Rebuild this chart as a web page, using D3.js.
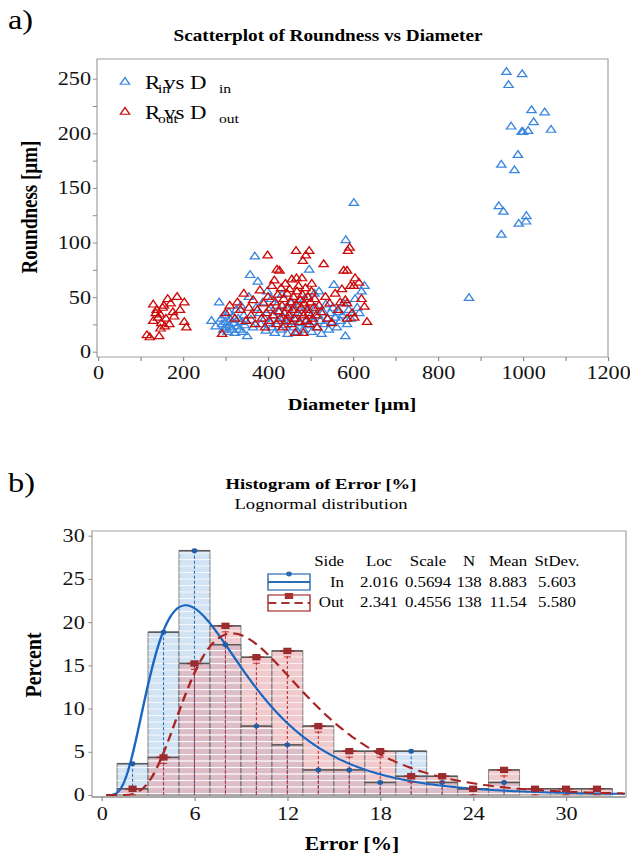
<!DOCTYPE html>
<html>
<head>
<meta charset="utf-8">
<script src="https://cdn.jsdelivr.net/npm/d3@7"></script>
<style>
  html, body { margin: 0; padding: 0; background: #fff; }
  svg { display: block; font-family: "Liberation Serif", "Times New Roman", serif; }
</style>
</head>
<body>
<div id="chart"></div>
<script>
// ---- scatter data: [diameter, roundness] ----
const rInPoints = [
  [961,256],[998,254],[966,244],[1020,221],[1051,219],[1025,210],[972,206],[997,201],[1000,201],[1012,202],
  [1066,203],[988,180],[949,171],[980,166],[943,133],[954,128],[1008,124],[1007,119],[990,117],[949,107],[873,49],
  [267,28],[277,23],[285,45],[290,30],[292,25],[295,20],[298,33],[300,27],[303,22],[305,18],[308,36],[310,24],
  [312,29],[315,20],[318,32],[320,26],[322,17],[325,38],[328,23],[330,30],[333,20],[336,42],[338,27],[340,18],
  [343,33],[345,24],[351,14],[355,50],[358,70],[360,29],[365,22],[369,87],[372,40],[376,64],[380,35],[383,25],
  [388,45],[392,30],[395,19],[398,55],[402,38],[405,26],[408,48],[410,22],[413,33],[416,17],[420,42],[423,28],
  [426,36],[430,20],[433,52],[436,31],[440,24],[443,40],[446,16],[450,34],[453,27],[456,45],[460,22],[463,38],
  [466,30],[470,18],[473,42],[476,26],[480,35],[483,20],[486,48],[490,29],[493,24],[496,38],[497,75],[500,32],
  [503,18],[506,27],[509,53],[512,40],[515,22],[518,33],[520,55],[523,28],[526,16],[530,36],[533,25],[536,43],
  [540,30],[543,20],[546,35],[550,27],[553,40],[555,61],[558,31],[562,22],[566,36],[570,28],[575,33],[578,44],
  [582,14],[583,102],[586,25],[590,38],[595,30],[602,136],[605,48],[610,40],[615,35],[620,55],[627,60]
];
const rOutPoints = [
  [115,15],[122,13],[130,43],[130,28],[136,35],[138,38],[141,31],[144,14],[146,34],[147,21],[149,26],[152,40],
  [155,42],[157,23],[160,30],[164,48],[168,25],[171,44],[176,36],[179,32],[186,50],[193,38],[203,45],[203,27],[208,22],
  [292,16],[300,35],[310,42],[322,30],[328,45],[335,38],[343,53],[348,28],[355,40],[360,33],[365,47],[370,25],
  [375,38],[381,56],[385,30],[390,44],[393,22],[396,35],[399,88],[400,50],[403,28],[406,40],[409,60],[412,33],
  [415,65],[417,45],[420,25],[421,75],[423,52],[425,37],[427,74],[429,30],[431,58],[433,42],[435,22],[437,48],
  [439,35],[441,62],[443,28],[445,53],[447,40],[449,33],[451,57],[453,45],[455,25],[456,66],[458,38],[460,50],
  [462,30],[464,17],[466,43],[466,92],[467,67],[468,55],[470,35],[472,60],[474,27],[476,47],[478,40],[480,67],
  [481,52],[482,83],[483,17],[484,33],[486,44],[488,58],[489,88],[490,28],[492,38],[494,50],[496,35],[497,92],
  [498,25],[500,45],[502,55],[503,62],[505,30],[507,40],[510,48],[513,33],[516,22],[520,42],[525,36],[531,80],
  [535,50],[540,30],[545,44],[550,26],[558,53],[565,38],[570,45],[574,57],[578,74],[582,47],[586,44],[586,74],
  [586,30],[588,92],[592,95],[594,60],[598,35],[602,60],[603,31],[605,67],[614,63],[620,48],[627,41],[633,27]
];
const xTicksScatter = d3.range(0, 1201, 100);
const yTicksScatter = d3.range(0, 251, 25);

// ---- histogram data (percent per 2-unit bin) ----
const binCenters = [2,4,6,8,10,12,14,16,18,20,22,24,26,28,30,32];
const pctIn  = [3.62,18.84,28.26,17.39,7.97,5.80,2.90,2.90,1.45,5.07,1.45,0.72,1.45,0,0,0];
const pctOut = [0.72,4.35,15.22,19.57,15.94,16.67,7.97,5.07,5.07,2.17,2.17,0.72,2.90,0.72,0.72,0.72];
const sides   = ["In", "Out"];
const locs    = [2.016, 2.341];
const scales  = [0.5694, 0.4556];
const counts  = [138, 138];
const means   = ["8.883", "11.54"];
const stdevs  = ["5.603", "5.580"];
const xTicksHist = [0, 6, 12, 18, 24, 30];
const yTicksHist = [0, 5, 10, 15, 20, 25, 30];

// the picture is stretched sideways; draw in narrow units and let the viewBox widen it
const SX = 1.2, W = 630 / SX, H = 857;
const sx = v => v / SX;

const svg = d3.select("#chart").append("svg")
  .attr("width", 630).attr("height", H)
  .attr("viewBox", `0 0 ${W} ${H}`)
  .attr("preserveAspectRatio", "none");

// faint white banding seen across the histogram bars
svg.append("defs").append("pattern").attr("id", "bands")
  .attr("patternUnits", "userSpaceOnUse").attr("width", 20).attr("height", 6.5)
  .append("rect").attr("width", 20).attr("height", 1).attr("fill", "#fff").attr("fill-opacity", 0.75);

const blue = "#3a86df", red = "#cc0a0a";

function styleAxis(g, size) {
  g.select(".domain").remove();
  g.selectAll(".tick line").attr("stroke", "#8c8c8c");
  g.selectAll(".tick text").attr("font-size", size).attr("fill", "#111")
    .attr("font-family", '"Liberation Serif", serif');
}

// ================= a) scatter =================
svg.append("text").attr("x", sx(8)).attr("y", 29).attr("font-size", 27).text("a)");
svg.append("text").attr("x", sx(328)).attr("y", 41).attr("text-anchor", "middle")
  .attr("font-size", 16).attr("font-weight", "bold").text("Scatterplot of Roundness vs Diameter");

const sFrame = { l: sx(97), r: sx(608), t: 59, b: 357 };
const x = d3.scaleLinear().domain([0, 1200]).range([sx(98), sx(608)]);
const y = d3.scaleLinear().domain([0, 250]).range([351.7, 78.7]);

svg.append("rect").attr("x", sFrame.l).attr("y", sFrame.t)
  .attr("width", sFrame.r - sFrame.l).attr("height", sFrame.b - sFrame.t)
  .attr("fill", "none").attr("stroke", "#a0a0a0").attr("stroke-width", 1);

svg.append("g").attr("transform", `translate(0,${sFrame.b})`)
  .call(d3.axisBottom(x).tickValues(xTicksScatter).tickFormat(d => d % 200 === 0 ? d : "")
    .tickSize(4).tickPadding(5))
  .call(g => styleAxis(g, 18.5));

svg.append("g").attr("transform", `translate(${sFrame.l},0)`)
  .call(d3.axisLeft(y).tickValues(yTicksScatter).tickFormat(d => d % 50 === 0 ? d : "")
    .tickSize(3.5).tickPadding(1.5))
  .call(g => styleAxis(g, 18.5));

svg.append("text").attr("x", sx(352)).attr("y", 410).attr("text-anchor", "middle")
  .attr("font-size", 17).attr("font-weight", "bold").text("Diameter [µm]");
svg.append("text").attr("transform", `translate(${sx(37)},207) rotate(-90)`)
  .attr("text-anchor", "middle").attr("font-size", 19).attr("font-weight", "bold").text("Roundness [µm]");

const tri = d3.symbol(d3.symbolTriangle, 26);

svg.append("g").selectAll("path").data(rInPoints).join("path")
  .attr("transform", d => `translate(${x(d[0])},${y(d[1])})`)
  .attr("d", tri).attr("fill", "none").attr("stroke", blue).attr("stroke-width", 1.2);
svg.append("g").selectAll("path").data(rOutPoints).join("path")
  .attr("transform", d => `translate(${x(d[0])},${y(d[1])})`)
  .attr("d", tri).attr("fill", "none").attr("stroke", red).attr("stroke-width", 1.2);

// legend (subscripts sit where the original put them)
const legRows = [
  { c: blue, sub: "in", ty: 82 },
  { c: red, sub: "out", ty: 112 }
];
legRows.forEach(r => {
  svg.append("path").attr("transform", `translate(${sx(125)},${r.ty})`)
    .attr("d", tri).attr("fill", "none").attr("stroke", r.c).attr("stroke-width", 1.2);
  const base = r.ty + 7;
  svg.append("text").attr("x", sx(145)).attr("y", base).attr("font-size", 19).text("R");
  svg.append("text").attr("x", sx(158)).attr("y", base + 4).attr("font-size", 13).text(r.sub);
  svg.append("text").attr("x", sx(164)).attr("y", base).attr("font-size", 19).text("vs D");
  svg.append("text").attr("x", sx(219)).attr("y", base + 4).attr("font-size", 13).text(r.sub);
});

// ================= b) histogram =================
svg.append("text").attr("x", sx(8)).attr("y", 492).attr("font-size", 27).text("b)");
svg.append("text").attr("x", sx(321)).attr("y", 489).attr("text-anchor", "middle")
  .attr("font-size", 15.5).attr("font-weight", "bold").text("Histogram of Error [%]");
svg.append("text").attr("x", sx(321)).attr("y", 509).attr("text-anchor", "middle")
  .attr("font-size", 15.5).text("Lognormal distribution");

const hFrame = { l: sx(92), r: sx(626), t: 531, b: 797 };
const hx = d3.scaleLinear().domain([0, 30]).range([sx(101.6), sx(566)]);
const hy = d3.scaleLinear().domain([0, 30]).range([795, 535.7]);
const binW = 2;

svg.append("rect").attr("x", hFrame.l).attr("y", hFrame.t)
  .attr("width", hFrame.r - hFrame.l).attr("height", hFrame.b - hFrame.t)
  .attr("fill", "none").attr("stroke", "#a0a0a0").attr("stroke-width", 1);

const inBins = binCenters.map((c, i) => ({ c, v: pctIn[i] })).filter(d => d.v > 0);
const outBins = binCenters.map((c, i) => ({ c, v: pctOut[i] })).filter(d => d.v > 0);
const barX = d => hx(d.c - binW / 2);
const barW = d => hx(d.c + binW / 2) - hx(d.c - binW / 2);

// In bars (opaque light blue), then Out bars (translucent pink) on top
svg.append("g").selectAll("rect").data(inBins).join("rect")
  .attr("x", barX).attr("width", barW)
  .attr("y", d => hy(d.v)).attr("height", d => hy(0) - hy(d.v))
  .attr("fill", "#d2e3f4").attr("stroke", "#7a7a7a").attr("stroke-width", 0.8);
svg.append("g").selectAll("rect").data(outBins).join("rect")
  .attr("x", barX).attr("width", barW)
  .attr("y", d => hy(d.v)).attr("height", d => hy(0) - hy(d.v))
  .attr("fill", "#e39ea3").attr("fill-opacity", 0.55).attr("stroke", "#7a7a7a").attr("stroke-width", 0.8);
[inBins, outBins].forEach(bins => {
  svg.append("g").selectAll("rect").data(bins).join("rect")
    .attr("x", barX).attr("width", barW)
    .attr("y", d => hy(d.v)).attr("height", d => hy(0) - hy(d.v))
    .attr("fill", "url(#bands)");
});

// bar tops
[inBins, outBins].forEach(bins => {
  svg.append("g").selectAll("line").data(bins).join("line")
    .attr("x1", barX).attr("x2", d => barX(d) + barW(d))
    .attr("y1", d => hy(d.v)).attr("y2", d => hy(d.v))
    .attr("stroke", "#5a5a5a").attr("stroke-width", 1.6);
});

// drop lines
svg.append("g").selectAll("line").data(inBins).join("line")
  .attr("x1", d => hx(d.c)).attr("x2", d => hx(d.c)).attr("y1", d => hy(d.v)).attr("y2", hy(0))
  .attr("stroke", "#2f6db8").attr("stroke-width", 0.9).attr("stroke-dasharray", "3,2");
svg.append("g").selectAll("line").data(outBins).join("line")
  .attr("x1", d => hx(d.c)).attr("x2", d => hx(d.c)).attr("y1", d => hy(d.v)).attr("y2", hy(0))
  .attr("stroke", "#c03030").attr("stroke-width", 0.9).attr("stroke-dasharray", "3,2");

// fitted lognormal curves, scaled to percent per bin
const lognormPct = (xv, mu, s) =>
  100 * binW * Math.exp(-Math.pow(Math.log(xv) - mu, 2) / (2 * s * s)) / (xv * s * Math.sqrt(2 * Math.PI));
const xs = d3.range(0.3, 33.9, 0.1);
const line = d3.line().x(d => hx(d[0])).y(d => hy(d[1]));
svg.append("path").datum(xs.map(v => [v, lognormPct(v, locs[0], scales[0])]))
  .attr("d", line).attr("fill", "none").attr("stroke", "#1a67c2").attr("stroke-width", 2);
svg.append("path").datum(xs.map(v => [v, lognormPct(v, locs[1], scales[1])]))
  .attr("d", line).attr("fill", "none").attr("stroke", "#a82424").attr("stroke-width", 2)
  .attr("stroke-dasharray", "9,5");

// markers
svg.append("g").selectAll("circle").data(inBins).join("circle")
  .attr("cx", d => hx(d.c)).attr("cy", d => hy(d.v)).attr("r", 2.4).attr("fill", "#1f5fa8");
const outMk = svg.append("g").selectAll("g").data(outBins).join("g")
  .attr("transform", d => `translate(${hx(d.c)},${hy(d.v)})`);
outMk.append("line").attr("x1", -6).attr("x2", 6).attr("stroke", "#9e2a2a").attr("stroke-width", 1.6);
outMk.append("line").attr("x1", -3).attr("x2", 3).attr("y1", 6).attr("y2", 6)
  .attr("stroke", "#c03030").attr("stroke-width", 1);
outMk.append("rect").attr("x", -3.4).attr("y", -3.2).attr("width", 6.8).attr("height", 6.4)
  .attr("fill", "#9a2b2e");

// axes
svg.append("line").attr("x1", hFrame.l).attr("x2", hFrame.r).attr("y1", hFrame.b).attr("y2", hFrame.b)
  .attr("stroke", "#a8a8a8").attr("stroke-width", 2);
svg.append("g").attr("transform", `translate(0,${hFrame.b})`)
  .call(d3.axisBottom(hx).tickValues(xTicksHist).tickSize(4).tickPadding(6))
  .call(g => styleAxis(g, 18.5));
svg.append("g").attr("transform", `translate(${hFrame.l},0)`)
  .call(d3.axisLeft(hy).tickValues(yTicksHist).tickSize(3).tickPadding(3))
  .call(g => styleAxis(g, 18.5));

svg.append("text").attr("x", sx(352)).attr("y", 850).attr("text-anchor", "middle")
  .attr("font-size", 18).attr("font-weight", "bold").text("Error [%]");
svg.append("text").attr("transform", `translate(${sx(41)},665) rotate(-90)`)
  .attr("text-anchor", "middle").attr("font-size", 20).attr("font-weight", "bold").text("Percent");

// legend table
const cols = [
  { head: "Side", x: 344, anchor: "end", vals: sides },
  { head: "Loc", x: 379, anchor: "middle", vals: locs.map(d => d.toFixed(3)) },
  { head: "Scale", x: 428, anchor: "middle", vals: scales.map(d => d.toFixed(4)) },
  { head: "N", x: 469, anchor: "middle", vals: counts },
  { head: "Mean", x: 508, anchor: "middle", vals: means },
  { head: "StDev.", x: 557, anchor: "middle", vals: stdevs }
];
const rowY = [566, 587, 607];
cols.forEach(c => {
  svg.append("text").attr("x", sx(c.x)).attr("y", rowY[0]).attr("text-anchor", c.anchor)
    .attr("font-size", 14).text(c.head);
  c.vals.forEach((v, i) => {
    svg.append("text").attr("x", sx(c.x)).attr("y", rowY[i + 1]).attr("text-anchor", c.anchor)
      .attr("font-size", 14).text(v);
  });
});
const keyX0 = sx(268), keyX1 = sx(310);
[{ y0: 574, c: "#2a6db5", dash: null, mk: "dot" }, { y0: 595, c: "#a83232", dash: "7,4", mk: "sq" }]
  .forEach(k => {
    svg.append("rect").attr("x", keyX0).attr("y", k.y0).attr("width", keyX1 - keyX0).attr("height", 16)
      .attr("fill", "#fff").attr("stroke", k.c).attr("stroke-width", 1.2);
    svg.append("line").attr("x1", keyX0).attr("x2", keyX1).attr("y1", k.y0 + 8).attr("y2", k.y0 + 8)
      .attr("stroke", k.c).attr("stroke-width", 2).attr("stroke-dasharray", k.dash);
    const mx = (keyX0 + keyX1) / 2;
    if (k.mk === "dot") {
      svg.append("circle").attr("cx", mx).attr("cy", k.y0).attr("r", 2.4).attr("fill", k.c);
    } else {
      svg.append("rect").attr("x", mx - 3.5).attr("y", k.y0 - 2).attr("width", 7).attr("height", 6).attr("fill", k.c);
    }
  });
</script>
</body>
</html>
